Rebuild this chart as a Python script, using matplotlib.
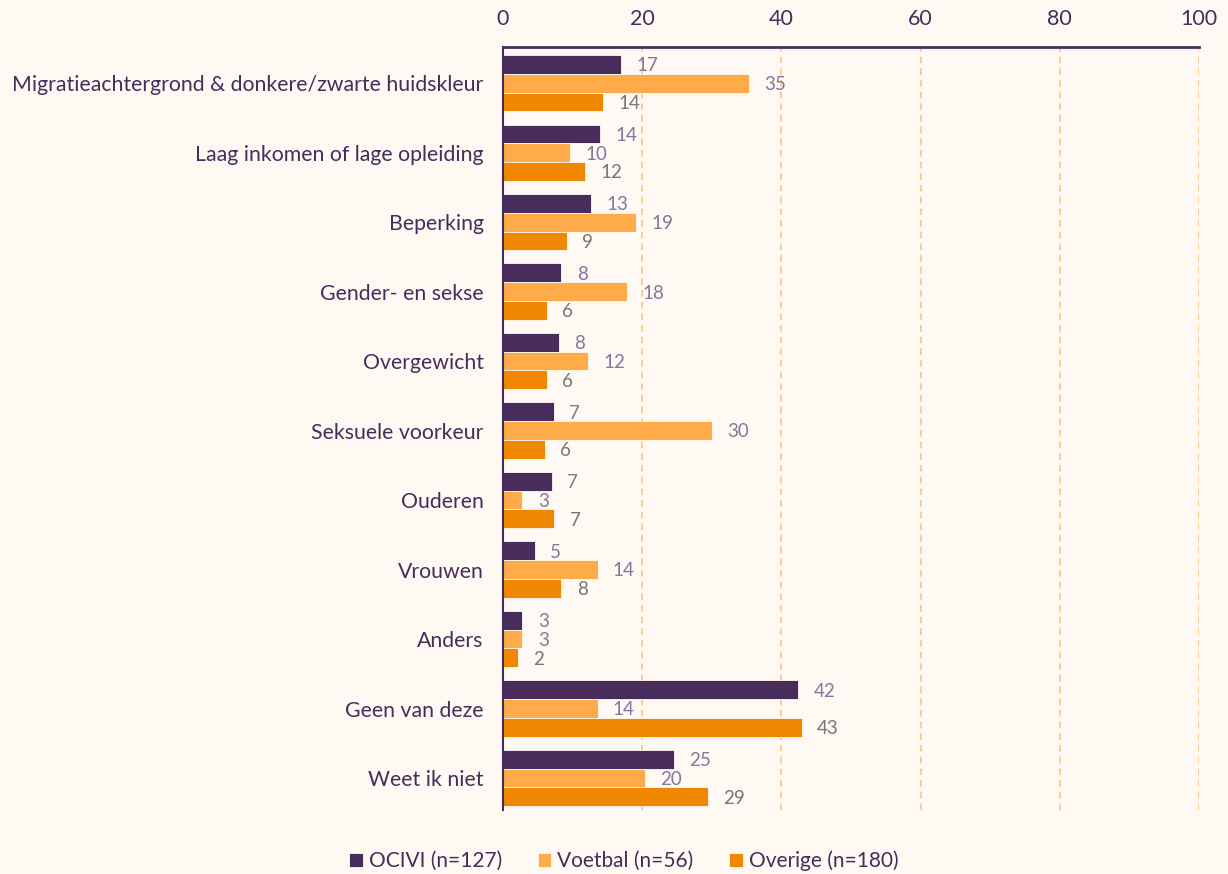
import numpy as np
import matplotlib.pyplot as plt

plt.rcParams['font.family'] = ['Lato', 'DejaVu Sans']

categories = ['Migratieachtergrond & donkere/zwarte huidskleur',
              'Laag inkomen of lage opleiding', 'Beperking', 'Gender- en sekse',
              'Overgewicht', 'Seksuele voorkeur', 'Ouderen', 'Vrouwen', 'Anders',
              'Geen van deze', 'Weet ik niet']
ocivi = [17.0, 13.9, 12.6, 8.4, 8.0, 7.3, 7.0, 4.6, 2.8, 42.4, 24.6]
voetbal = [35.3, 9.6, 19.1, 17.8, 12.2, 30.0, 2.8, 13.6, 2.8, 13.6, 20.4]
overige = [14.4, 11.8, 9.2, 6.3, 6.3, 6.0, 7.4, 8.4, 2.2, 42.9, 29.4]
series_names = ['OCIVI (n=127)', 'Voetbal (n=56)', 'Overige (n=180)']

colors = ['#472c5c', '#ffab4a', '#f08700']
label_colors = ['#85769a', '#85769a', '#767676']
bg = '#fff9f3'
txt = '#472c5c'

fig = plt.figure(figsize=(12.28, 8.74), dpi=100, facecolor=bg)
ax = fig.add_axes([0.4096, 0.0732, 0.5668, 0.873])
ax.set_facecolor(bg)

y = np.arange(len(categories))
h = 0.27
for i, (vals, c, lc, name) in enumerate(zip([ocivi, voetbal, overige], colors,
                                            label_colors, series_names)):
    pos = y + (i - 1) * h
    ax.barh(pos, vals, height=h, color=c, edgecolor='#fff9f3', linewidth=0.6,
            label=name, zorder=3)
    for p, v in zip(pos, vals):
        ax.annotate(f'{v:.0f}', (v, p), xytext=(11, -1), textcoords='offset points',
                    va='center', ha='left', fontsize=13.5,
                    color=lc, zorder=4)

ax.set_xlim(0, 100)
ax.set_ylim(10.46, -0.52)
ax.set_xticks([0, 20, 40, 60, 80, 100])
ax.xaxis.tick_top()
ax.tick_params(axis='x', length=0, pad=13, labelsize=15.5, labelcolor=txt)
ax.set_yticks(y)
ax.set_yticklabels(categories)
ax.tick_params(axis='y', length=0, pad=14, labelsize=15.3, labelcolor=txt)

for gx in [20, 40, 60, 80, 100]:
    ax.axvline(gx, color='#ffc47f', linestyle=(0, (4, 3)), linewidth=1.2, zorder=1)

for s in ['right', 'bottom']:
    ax.spines[s].set_visible(False)
ax.spines['top'].set_color(txt)
ax.spines['top'].set_linewidth(2)
ax.spines['left'].set_color(txt)
ax.spines['left'].set_linewidth(1.5)
for s in ax.spines.values():
    s.set_zorder(5)

fig.legend(loc='lower center', bbox_to_anchor=(0.508, -0.018), ncol=3, frameon=False,
           fontsize=15, labelcolor=txt, handlelength=0.65, handleheight=0.65,
           handletextpad=0.3, columnspacing=1.7)

fig.savefig('out.png', dpi=100, facecolor=bg)
